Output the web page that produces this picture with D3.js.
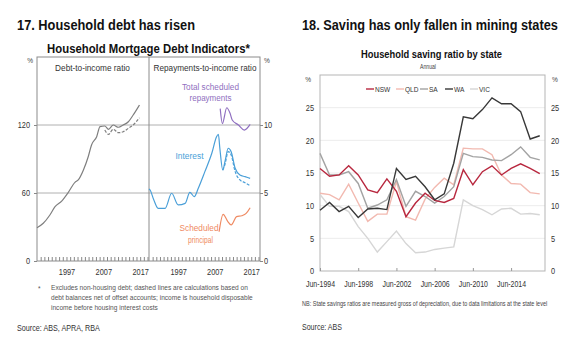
<!DOCTYPE html>
<html>
<head>
<meta charset="utf-8">
<script src="https://cdn.jsdelivr.net/npm/d3@7"></script>
<style>
  body { margin: 0; background: #fff; }
  svg { display: block; font-family: 'Liberation Sans', Arial, sans-serif; }
  .tick text { font-family: 'Liberation Sans', Arial, sans-serif; }
</style>
</head>
<body>
<div id="chart"></div>
<script>
/* Left: household mortgage debt indicators (year, value) */
const debtIncome = [[1989,29.4],[1990.7,33.3],[1992.5,40.6],[1993.9,47.9],[1995.7,52.9],[1997.5,60.6],[1999.3,69.4],[2000.2,71.5],[2001.6,80.3],[2002.9,92],[2003.8,102.4],[2005.2,109.7],[2006.1,118.5],[2007.4,119.1],[2008.4,116.2],[2009.7,120],[2011.1,118],[2012.4,120],[2013.8,122.9],[2015.1,128.8],[2016.8,137.6]];
const debtIncomeNet = [[2007.4,115.6],[2008.4,111.8],[2009.7,116.2],[2011.1,113.2],[2012.4,114.1],[2013.8,117.1],[2015.1,120],[2016.8,126.4]];
const interest = [[1989,5.3],[1989.3,5.22],[1990.3,4.5],[1991.5,3.87],[1993.4,3.87],[1995.2,4.98],[1997.0,4.12],[1998.9,4.24],[2000.2,5.05],[2001.4,4.73],[2002.5,5.35],[2004.3,6.57],[2006.2,7.92],[2007.5,9.14],[2008.0,9.32],[2008.4,8.29],[2009.2,6.69],[2009.8,7.3],[2010.7,8.29],[2011.5,8.04],[2012.6,6.82],[2013.9,6.32],[2015.3,6.2],[2016.7,6.08]];
const interestNet = [[2009.2,6.69],[2009.8,7.1],[2010.7,8.04],[2011.5,7.8],[2012.6,6.57],[2013.9,5.96],[2015.3,5.76],[2016.7,5.54]];
const totalRepay = [[2008.5,11.2],[2009.1,10.1],[2010.3,11.27],[2011.2,10.86],[2011.8,10.37],[2013.5,10.0],[2015.1,9.63],[2016.7,10.05]];
const principal = [[2008.2,2.15],[2009.3,3.43],[2010.6,2.89],[2011.5,2.65],[2013.0,3.26],[2014.4,3.33],[2015.6,3.5],[2016.7,3.92]];

/* Right: household saving ratio by state, Jun-1994 .. Jun-2017 */
const years = d3.range(1994, 2018);
const nsw = [15.7,14.5,14.7,16.1,14.7,12.4,12.0,14.1,12.2,8.3,10.4,11.9,10.8,10.5,11.1,15.5,13.2,15.2,16.1,14.7,15.7,16.4,15.7,14.9];
const qld = [11.9,11.7,10.9,13.3,10.4,7.6,8.7,8.7,13.7,8.3,7.8,11.0,12.8,14.2,13.2,18.8,18.7,18.7,17.8,14.7,13.4,13.3,12.0,11.8];
const sa  = [18.0,14.7,14.7,15.2,13.4,9.6,10.1,10.9,14.0,9.9,12.2,11.4,10.4,11.4,12.9,18.0,17.5,17.4,17.0,16.9,17.8,19.0,17.4,17.0];
const wa  = [9.3,10.5,9.1,9.9,8.2,9.5,9.6,9.4,15.7,14.0,14.5,12.9,10.9,11.8,16.5,23.6,23.3,24.7,26.5,25.6,25.6,24.4,20.2,20.7];
const vic = [11.7,9.9,9.9,9.1,6.8,5.0,2.9,4.5,6.1,4.2,2.8,2.9,3.3,3.5,3.7,10.9,10.0,9.4,8.6,9.5,9.6,8.7,8.8,8.6];
const states = ['NSW', 'QLD', 'SA', 'WA', 'VIC'];
const stateColors = ['#b8283f', '#f2b9b0', '#a3a3a3', '#383838', '#d6d6d6'];

const leftYTicks = [0, 60, 120];
const rightYTicks = [0, 5, 10];
const yearLabels = [1997, 2007, 2017];
const savingTicks = [1994, 1998, 2002, 2006, 2010, 2014];

const width = 580, height = 352;
const NARROW = 0.82; // no narrow font installed, so squeeze horizontally
const svg = d3.select('#chart').append('svg')
    .attr('width', width).attr('height', height);

// o.w = width the text should fill
const txt = (x, y, s, o = {}) => {
    const t = svg.append('text')
        .attr('x', 0).attr('y', 0).text(s)
        .attr('font-size', o.size || 9)
        .attr('font-weight', o.bold ? 'bold' : null)
        .attr('fill', o.color || '#222')
        .attr('text-anchor', o.anchor || 'start');
    const nat = t.node().getComputedTextLength();
    const sx = o.w ? o.w / nat : NARROW;
    t.attr('transform', `translate(${x},${y}) scale(${sx},1)`);
    return t;
};
// same squeeze for axis labels, keeping their anchor point
const squeeze = g => g.selectAll('text').each(function () {
    const el = d3.select(this);
    el.attr('x', (+el.attr('x') || 0) / NARROW).attr('transform', `scale(${NARROW},1)`);
});

// ---------- chart 17 ----------
txt(17, 29.5, '17. Household debt has risen', {size: 15.5, bold: true, color: '#111', w: 178});
txt(148.5, 52.5, 'Household Mortgage Debt Indicators*', {size: 13, bold: true, color: '#111', anchor: 'middle', w: 203});

const p = {left: 37, mid: 149, right: 260, top: 57, bottom: 261};
const xL = d3.scaleLinear().domain([1989, 2019.4]).range([p.left, p.mid]);
const xR = d3.scaleLinear().domain([1989, 2019.4]).range([p.mid, p.right]);
const yL = d3.scaleLinear().domain([0, 180]).range([p.bottom, p.top]);
const yR = d3.scaleLinear().domain([0, 15]).range([p.bottom, p.top]);

// gridlines
svg.append('g').selectAll('line').data([60, 120]).join('line')
    .attr('x1', p.left).attr('x2', p.right)
    .attr('y1', d => yL(d)).attr('y2', d => yL(d))
    .attr('stroke', '#b0b0b0').attr('stroke-width', 1);

// minor year ticks pointing inward
const minorAxis = (x, g) => g.attr('transform', `translate(0,${p.bottom})`)
    .call(d3.axisBottom(x).tickValues(d3.range(1990, 2020)).tickSize(-4).tickFormat(''))
    .call(g => g.select('.domain').remove())
    .call(g => g.selectAll('line').attr('stroke', '#888'));
svg.append('g').call(g => minorAxis(xL, g));
svg.append('g').call(g => minorAxis(xR, g));

const yearAxis = (x, g) => g.attr('transform', `translate(0,${p.bottom + 5})`)
    .call(d3.axisBottom(x).tickValues(yearLabels).tickSize(0).tickFormat(d3.format('d')))
    .call(g => g.select('.domain').remove())
    .call(g => g.selectAll('text').attr('font-size', 9).attr('fill', '#333'))
    .call(squeeze);
svg.append('g').call(g => yearAxis(xL, g));
svg.append('g').call(g => yearAxis(xR, g));

svg.append('g').attr('transform', `translate(${p.left},0)`)
    .call(d3.axisLeft(yL).tickValues(leftYTicks).tickSize(3).tickPadding(4))
    .call(g => g.select('.domain').remove())
    .call(g => g.selectAll('line').attr('stroke', '#888'))
    .call(g => g.selectAll('text').attr('font-size', 9).attr('fill', '#333'))
    .call(squeeze);
svg.append('g').attr('transform', `translate(${p.right},0)`)
    .call(d3.axisRight(yR).tickValues(rightYTicks).tickSize(3).tickPadding(1))
    .call(g => g.select('.domain').remove())
    .call(g => g.selectAll('line').attr('stroke', '#888'))
    .call(g => g.selectAll('text').attr('font-size', 9).attr('fill', '#333'))
    .call(squeeze);

// frame + divider
svg.append('rect').attr('x', p.left).attr('y', p.top)
    .attr('width', p.right - p.left).attr('height', p.bottom - p.top)
    .attr('fill', 'none').attr('stroke', '#8c8c8c');
svg.append('line').attr('x1', p.mid).attr('x2', p.mid)
    .attr('y1', p.top).attr('y2', p.bottom).attr('stroke', '#8c8c8c');

txt(33, 63, '%', {size: 8, anchor: 'end', color: '#444'});
txt(264, 63, '%', {size: 8, color: '#444'});
txt(92.5, 71, 'Debt-to-income ratio', {size: 8.5, anchor: 'middle', color: '#333', w: 75});
txt(205, 71, 'Repayments-to-income ratio', {size: 8.5, anchor: 'middle', color: '#333', w: 103});

const lineL = d3.line().x(d => xL(d[0])).y(d => yL(d[1])).curve(d3.curveMonotoneX);
const lineR = d3.line().x(d => xR(d[0])).y(d => yR(d[1])).curve(d3.curveMonotoneX);
const draw = (data, gen, color, dash) => svg.append('path').datum(data)
    .attr('d', gen).attr('fill', 'none').attr('stroke', color)
    .attr('stroke-width', 1.2).attr('stroke-dasharray', dash || null);

draw(debtIncome, lineL, '#7f7f7f');
draw(debtIncomeNet, lineL, '#7f7f7f', '3,1.5');
draw(interest, lineR, '#4a9fd8');
draw(interestNet, lineR, '#4a9fd8', '3,1.5');
draw(totalRepay, lineR, '#8f6fc0');
draw(principal, lineR, '#ef8a62');

txt(210.5, 90, 'Total scheduled', {size: 9, anchor: 'middle', color: '#8f6fc0', w: 57});
txt(210.5, 101, 'repayments', {size: 9, anchor: 'middle', color: '#8f6fc0', w: 42});
txt(189.5, 159, 'Interest', {size: 9, anchor: 'middle', color: '#4a9fd8', w: 28});
txt(199, 231, 'Scheduled', {size: 9, anchor: 'middle', color: '#ef8a62', w: 39});
txt(200.5, 243, 'principal', {size: 9, anchor: 'middle', color: '#ef8a62', w: 25});

txt(38, 291, '*', {size: 8, color: '#555'});
txt(51, 290, 'Excludes non-housing debt; dashed lines are calculations based on', {size: 7.8, color: '#555', w: 197});
txt(51, 300, 'debt balances net of offset accounts; income is household disposable', {size: 7.8, color: '#555', w: 202});
txt(51, 310, 'income before housing interest costs', {size: 7.8, color: '#555', w: 107});
txt(17, 331, 'Source:  ABS, APRA, RBA', {size: 9, color: '#333', w: 83});

// ---------- chart 18 ----------
txt(302, 30, '18. Saving has only fallen in mining states', {size: 15.5, bold: true, color: '#111', w: 256});
txt(431.5, 57.5, 'Household saving ratio by state', {size: 11.5, bold: true, color: '#111', anchor: 'middle', w: 141});
txt(428, 68.5, 'Annual', {size: 7.5, color: '#444', anchor: 'middle', w: 16});

const q = {left: 320, right: 545, top: 75, bottom: 271};
const x = d3.scaleLinear().domain([1994, 2017.55]).range([q.left, q.right]);
const y = d3.scaleLinear().domain([0, 30]).range([q.bottom, q.top]);

svg.append('g').selectAll('line').data([5, 10, 15, 20, 25]).join('line')
    .attr('x1', q.left).attr('x2', q.right)
    .attr('y1', d => y(d)).attr('y2', d => y(d))
    .attr('stroke', '#ececec');

svg.append('rect').attr('x', q.left).attr('y', q.top)
    .attr('width', q.right - q.left).attr('height', q.bottom - q.top)
    .attr('fill', 'none').attr('stroke', '#b5b5b5');

svg.append('g').attr('transform', `translate(0,${q.bottom})`)
    .call(d3.axisBottom(x).tickValues(savingTicks).tickSize(-3).tickPadding(10)
        .tickFormat(d => 'Jun-' + d))
    .call(g => g.select('.domain').remove())
    .call(g => g.selectAll('line').attr('stroke', '#999'))
    .call(g => g.selectAll('text').attr('font-size', 8.5).attr('fill', '#333'))
    .call(squeeze);

const yTicks = d3.range(0, 30, 5);
svg.append('g').attr('transform', `translate(${q.left - 4},0)`)
    .call(d3.axisLeft(y).tickValues(yTicks).tickSize(0).tickPadding(2))
    .call(g => g.select('.domain').remove())
    .call(g => g.selectAll('text').attr('font-size', 9).attr('fill', '#333'))
    .call(squeeze);
svg.append('g').attr('transform', `translate(${q.right + 4},0)`)
    .call(d3.axisRight(y).tickValues(yTicks).tickSize(0).tickPadding(2))
    .call(g => g.select('.domain').remove())
    .call(g => g.selectAll('text').attr('font-size', 9).attr('fill', '#333'))
    .call(squeeze);
txt(311, 82, '%', {size: 8, anchor: 'end', color: '#444'});
txt(552, 82, '%', {size: 8, color: '#444'});

const series = [nsw, qld, sa, wa, vic];
const drawOrder = [4, 1, 2, 0, 3];
const line = d3.line().x((d, i) => x(years[i])).y(d => y(d));
drawOrder.forEach(k => svg.append('path').datum(series[k])
    .attr('d', line).attr('fill', 'none')
    .attr('stroke', stateColors[k]).attr('stroke-width', 1.4));

// legend
const legendX = [366, 396, 420, 445, 470];
states.forEach((s, k) => {
    svg.append('line').attr('x1', legendX[k]).attr('x2', legendX[k] + 8)
        .attr('y1', 89).attr('y2', 89)
        .attr('stroke', stateColors[k]).attr('stroke-width', 1.4);
    txt(legendX[k] + 9, 92, s, {size: 8, color: '#333'});
});

txt(302, 306, 'NB: State savings ratios are measured gross of depreciation, due to data limitations at the state level', {size: 6.4, color: '#444', w: 245});
txt(302, 330, 'Source: ABS', {size: 9, color: '#333', w: 40});
</script>
</body>
</html>
